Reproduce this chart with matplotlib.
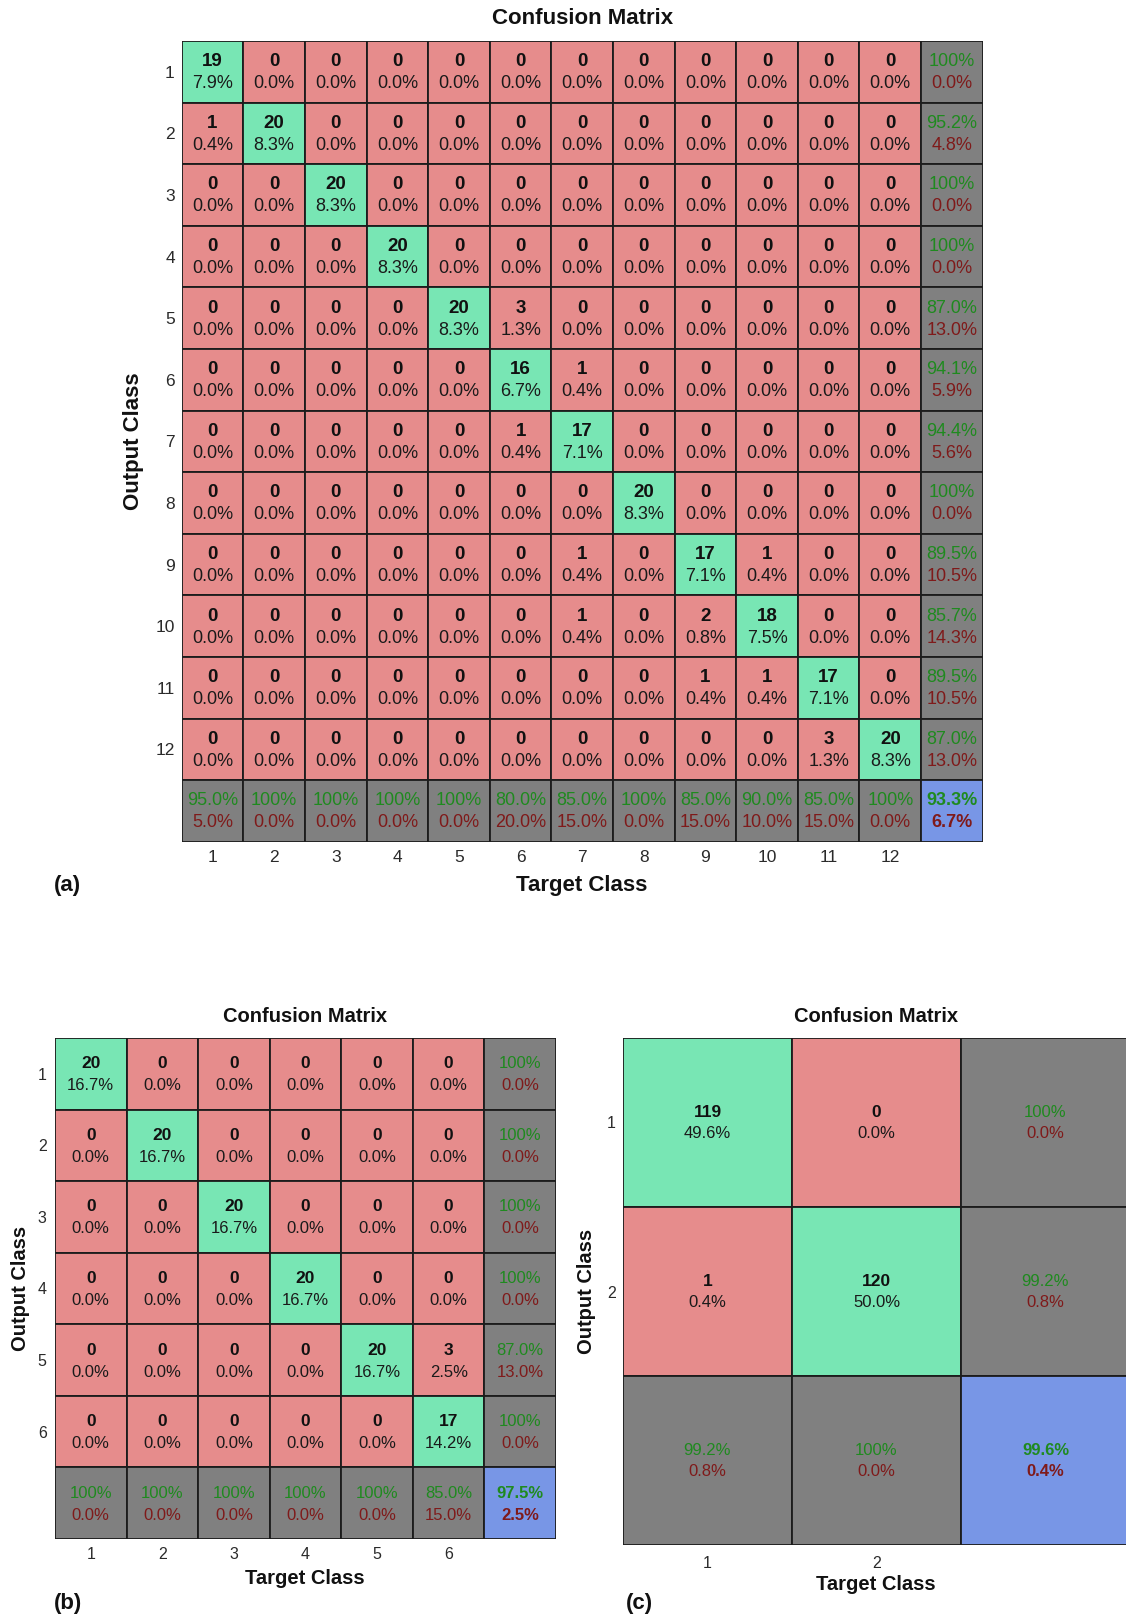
import numpy as np
import matplotlib
matplotlib.use("Agg")
import matplotlib.pyplot as plt
from matplotlib.patches import Rectangle
from matplotlib.transforms import offset_copy

plt.rcParams['font.family'] = ['Liberation Sans', 'DejaVu Sans']

# confusion matrices: rows = output class, cols = target class
cm_a = np.array([
    [19, 0, 0, 0, 0, 0, 0, 0, 0, 0, 0, 0],
    [1, 20, 0, 0, 0, 0, 0, 0, 0, 0, 0, 0],
    [0, 0, 20, 0, 0, 0, 0, 0, 0, 0, 0, 0],
    [0, 0, 0, 20, 0, 0, 0, 0, 0, 0, 0, 0],
    [0, 0, 0, 0, 20, 3, 0, 0, 0, 0, 0, 0],
    [0, 0, 0, 0, 0, 16, 1, 0, 0, 0, 0, 0],
    [0, 0, 0, 0, 0, 1, 17, 0, 0, 0, 0, 0],
    [0, 0, 0, 0, 0, 0, 0, 20, 0, 0, 0, 0],
    [0, 0, 0, 0, 0, 0, 1, 0, 17, 1, 0, 0],
    [0, 0, 0, 0, 0, 0, 1, 0, 2, 18, 0, 0],
    [0, 0, 0, 0, 0, 0, 0, 0, 1, 1, 17, 0],
    [0, 0, 0, 0, 0, 0, 0, 0, 0, 0, 3, 20],
])
cm_b = np.array([
    [20, 0, 0, 0, 0, 0],
    [0, 20, 0, 0, 0, 0],
    [0, 0, 20, 0, 0, 0],
    [0, 0, 0, 20, 0, 0],
    [0, 0, 0, 0, 20, 3],
    [0, 0, 0, 0, 0, 17],
])
cm_c = np.array([
    [119, 0],
    [1, 120],
])

W, H = 1126, 1620
GREEN = '#78e6b4'
RED = '#e68c8c'
GRAY = '#808080'
BLUE = '#7896e6'
TXT_G = '#1f8a1f'
TXT_R = '#7f1a1a'
EDGE = '#1c1c1c'

fig = plt.figure(figsize=(W / 100, H / 100), dpi=100)


def fmt(v):
    # matlab style: round half up, 100% shown without decimals
    r = np.floor(v * 10 + 0.5 + 1e-9) / 10
    if r == 100:
        return '100%'
    return '%.1f%%' % r


def box(l, t, r, b):
    return [l / W, 1 - b / H, (r - l) / W, (b - t) / H]


def draw(cm, rect, fs, tick_fs, dy_top, dy_bot, pad_x, pad_y):
    ax = fig.add_axes(rect)
    n = cm.shape[0]
    total = cm.sum()
    up = offset_copy(ax.transData, fig=fig, x=0, y=dy_top, units='dots')
    dn = offset_copy(ax.transData, fig=fig, x=0, y=-dy_bot, units='dots')
    for i in range(n + 1):
        for j in range(n + 1):
            cx, cy = j + 0.5, i + 0.5
            if i < n and j < n:
                col = GREEN if i == j else RED
                ax.add_patch(Rectangle((j, i), 1, 1, fc=col, ec=EDGE, lw=1.3))
                ax.text(cx, cy, str(cm[i, j]), transform=up, ha='center', va='center',
                        fontsize=fs + 0.5, fontweight='bold', color='#111111')
                ax.text(cx, cy, fmt(100 * cm[i, j] / total), transform=dn, ha='center',
                        va='center', fontsize=fs, color='#1a1a1a')
                continue
            if i == n and j == n:
                acc = 100 * np.trace(cm) / total
                ax.add_patch(Rectangle((j, i), 1, 1, fc=BLUE, ec=EDGE, lw=1.3))
                bold = 'bold'
            else:
                if i == n:
                    s = cm[:, j].sum()
                    acc = 100 * cm[j, j] / s
                else:
                    s = cm[i, :].sum()
                    acc = 100 * cm[i, i] / s
                ax.add_patch(Rectangle((j, i), 1, 1, fc=GRAY, ec=EDGE, lw=1.3))
                bold = 'normal'
            ax.text(cx, cy, fmt(acc), transform=up, ha='center', va='center',
                    fontsize=fs, color=TXT_G, fontweight=bold)
            ax.text(cx, cy, fmt(100 - acc), transform=dn, ha='center', va='center',
                    fontsize=fs, color=TXT_R, fontweight=bold)
    ax.set_xlim(0, n + 1)
    ax.set_ylim(n + 1, 0)
    ax.set_xticks(np.arange(n) + 0.5)
    ax.set_xticklabels([str(k + 1) for k in range(n)])
    ax.set_yticks(np.arange(n) + 0.5)
    ax.set_yticklabels([str(k + 1) for k in range(n)])
    ax.tick_params(axis='x', length=0, pad=pad_x, labelsize=tick_fs, colors='#2a2a2a')
    ax.tick_params(axis='y', length=0, pad=pad_y, labelsize=tick_fs, colors='#2a2a2a')
    for sp in ax.spines.values():
        sp.set_visible(False)
    return ax


def label(x, y, s, size, rot=0, ha='center'):
    fig.text(x / W, 1 - y / H, s, fontsize=size, fontweight='bold', ha=ha,
             va='center', rotation=rot, color='#111111')


# (a)
draw(cm_a, box(181.7, 41, 982.7, 841.7), 13, 12.5, 10, 12, 6, 5)
label(583, 19, 'Confusion Matrix', 16)
label(582, 885, 'Target Class', 16)
label(133, 441, 'Output Class', 16, rot=90)
label(54, 885, '(a)', 16, ha='left')

# (b)
draw(cm_b, box(55, 1038, 556, 1539), 12, 11.5, 10, 12, 6, 6)
label(305, 1016, 'Confusion Matrix', 14.5)
label(305, 1578, 'Target Class', 14.5)
label(21, 1288, 'Output Class', 14.5, rot=90)
label(54, 1604, '(b)', 16, ha='left')

# (c)
draw(cm_c, box(623, 1038, 1130, 1545), 12, 11.5, 10, 11, 8, 5)
label(876, 1016, 'Confusion Matrix', 14.5)
label(876, 1584, 'Target Class', 14.5)
label(587, 1291, 'Output Class', 14.5, rot=90)
label(626, 1604, '(c)', 16, ha='left')

fig.savefig('out.png', dpi=100)
